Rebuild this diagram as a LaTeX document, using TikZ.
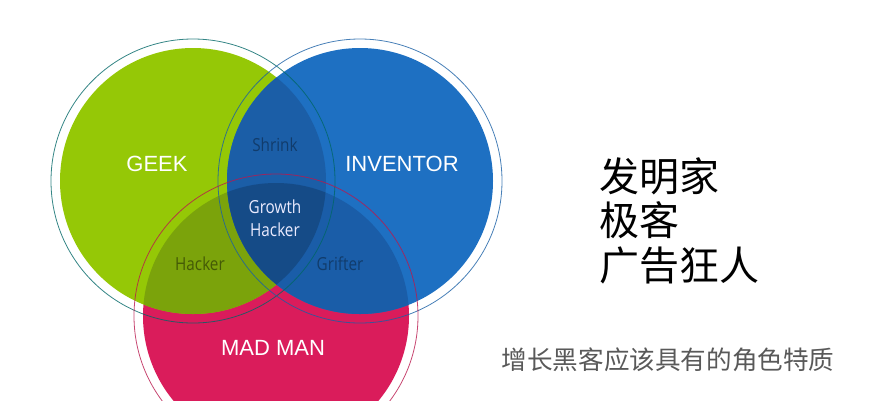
\documentclass[tikz,border=0pt]{standalone}
\usepackage{fontspec}
\setmainfont{Liberation Sans}
\newfontfamily\labelfont[FakeStretch=0.85]{Open Sans}
\newfontfamily\cjk{Noto Sans CJK SC}
\usetikzlibrary{positioning}
\definecolor{geekgreen}{HTML}{95C806}
\definecolor{inventorblue}{HTML}{1E70C2}
\definecolor{madred}{HTML}{DA1C5B}
\definecolor{shrinkblue}{HTML}{1B5EA7}
\definecolor{hackergreen}{HTML}{7BA30B}
\definecolor{grifterblue}{HTML}{1A5DA8}
\definecolor{growthnavy}{HTML}{154B87}
\tikzstyle{every node}=[inner sep=0pt,outer sep=0pt]
\tikzstyle{ring}=[line width=0.8pt,opacity=0.8]
\tikzstyle{role}=[text=white,font=\fontsize{22}{22}\selectfont]
\tikzstyle{mix}=[font=\labelfont\fontsize{18}{23}\selectfont,align=center]
\tikzstyle{cjktitle}=[font=\cjk\fontsize{40}{44}\selectfont,anchor=base west]
\tikzstyle{cjkcaption}=[font=\cjk\fontsize{25.6}{25.6}\selectfont,text=black!65]

\begin{document}
\begin{tikzpicture}[x=1pt,y=-1pt]
\useasboundingbox (0,0) rectangle (889,400);
\coordinate (geek) at (193,181);
\coordinate (inventor) at (360,181);
\coordinate (madman) at (276,316);

\begin{scope}
\clip (0,0) rectangle (889,400);
\fill[madred] (madman) circle (133pt);
\fill[geekgreen] (geek) circle (133pt);
\fill[inventorblue] (inventor) circle (133pt);
\begin{scope}
\clip (geek) circle (133pt);
\fill[hackergreen] (madman) circle (133pt);
\fill[shrinkblue] (inventor) circle (133pt);
\end{scope}
\begin{scope}
\clip (inventor) circle (133pt);
\fill[grifterblue] (madman) circle (133pt);
\clip (geek) circle (133pt);
\fill[growthnavy] (madman) circle (133pt);
\end{scope}
\draw[ring,color=teal!80!black] (geek) circle (142pt);
\draw[ring,color=inventorblue!85!black] (inventor) circle (142pt);
\draw[ring,color=madred!85!black] (madman) circle (142pt);
\end{scope}

\node[role] (geek label) at (157,164) {GEEK};
\node[role] (inventor label) at (402,164) {INVENTOR};
\node[role] (madman label) at (273,348) {MAD MAN};
\node[mix,text=growthnavy!80!black] (shrink) at (275,145) {Shrink};
\node[mix,text=white!92!blue] (growth) at (275,218) {Growth\\Hacker};
\node[mix,text=hackergreen!55!black] (hacker) at (200,264) {Hacker};
\node[mix,text=growthnavy!80!black] (grifter) at (340,264) {Grifter};

\node[cjktitle] (inventor cn) at (599,191) {发明家};
\node[cjktitle,below=44.5pt of inventor cn.base west,anchor=base west] (geek cn) {极客};
\node[cjktitle,below=44.5pt of geek cn.base west,anchor=base west] (madman cn) {广告狂人};
\node[cjkcaption] (caption) at (668,360) {增长黑客应该具有的角色特质};
\end{tikzpicture}
\end{document}
